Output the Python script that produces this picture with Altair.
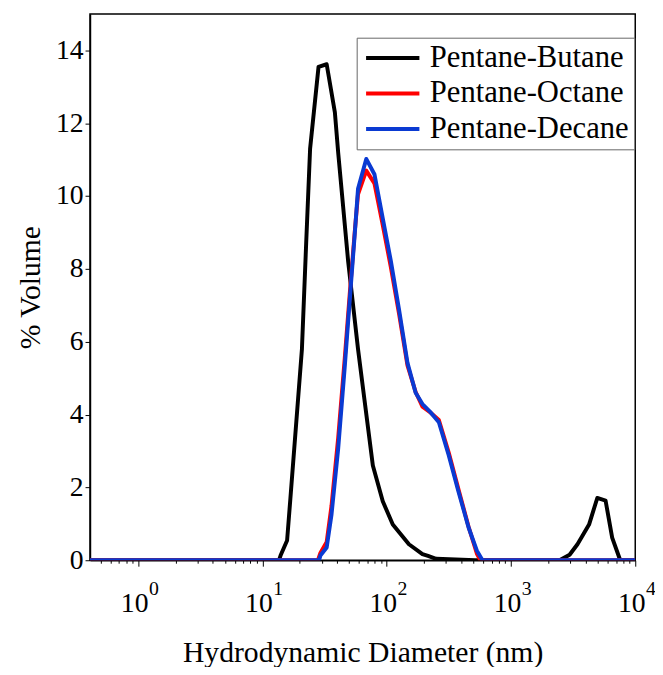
import altair as alt
import pandas as pd

# ---- data ----
butane_d = [0.4, 13.6, 14.0, 15.8, 16.8, 20.8, 22.5, 24.2, 28.3, 32.9, 38.3, 40.7, 49, 58.8, 66.3, 77.4,
            93, 112, 151, 194, 215, 250, 515, 2460, 2965, 3430, 4250, 4950, 5770, 6520, 7570, 10000]
butane_v = [0, 0, 0.13, 0.54, 1.7, 5.8, 8.7, 11.3, 13.55, 13.62, 12.3, 11.2, 8.2, 5.8, 4.4, 2.6,
            1.62, 0.98, 0.44, 0.17, 0.12, 0.04, 0, 0, 0.15, 0.44, 0.98, 1.71, 1.64, 0.62, 0, 0]

decane_d = [0.4, 28.6, 29.3, 32.9, 36.0, 40.7, 46.0, 50.4, 55.3, 58.8, 68.5, 79.7, 93, 108, 126, 147,
            171, 194, 226, 263, 316, 378, 456, 532, 590, 10000]
decane_v = [0, 0, 0.13, 0.35, 1.26, 3.06, 5.32, 7.13, 8.94, 10.2, 11.02, 10.6, 9.39, 8.22, 6.86, 5.42,
            4.6, 4.29, 4.06, 3.79, 2.88, 1.89, 0.9, 0.26, 0, 0]

octane_d = [0.4, 28.0, 29.3, 32.9, 36.0, 40.7, 46.0, 50.4, 55.3, 58.8, 68.5, 79.7, 93, 108, 126, 147,
            171, 194, 226, 263, 316, 378, 456, 532, 568, 10000]
octane_v = [0, 0, 0.2, 0.5, 1.5, 3.35, 5.55, 7.3, 9.0, 10.05, 10.7, 10.35, 9.2, 8.05, 6.75, 5.35,
            4.62, 4.22, 4.05, 3.85, 2.95, 1.95, 0.92, 0.18, 0, 0]

series_names = ["Pentane-Butane", "Pentane-Octane", "Pentane-Decane"]
series_colors = ["#000000", "#ff0000", "#0a3ad2"]

y_ticks = [0, 2, 4, 6, 8, 10, 12, 14]
decades = [1, 10, 100, 1000, 10000]
exponents = ["0", "1", "2", "3", "4"]
x_ticks = [m * 10 ** k for k in range(-1, 4) for m in range(1, 10) if 0.41 <= m * 10 ** k <= 10000] + [10000]

rows = []
for name, ds, vs in [(series_names[0], butane_d, butane_v),
                     (series_names[1], octane_d, octane_v),
                     (series_names[2], decane_d, decane_v)]:
    for i, (d, v) in enumerate(zip(ds, vs)):
        rows.append({"series": name, "d": d, "v": v, "order": i})
df = pd.DataFrame(rows)

exp_df = pd.DataFrame({"d": decades, "e": exponents})

W, H = 552, 553
FONT = "Liberation Serif"

xscale = alt.Scale(type="log", domain=[0.41, 10000], nice=False)

lines = alt.Chart(df).mark_line(strokeWidth=4, strokeJoin="round", clip=True).encode(
    x=alt.X("d:Q", scale=xscale,
            axis=alt.Axis(values=x_ticks, title="Hydrodynamic Diameter (nm)",
                          labelExpr="indexof([1,10,100,1000,10000], datum.value) >= 0 ? '10' : ''",
                          labelOffset=-4, labelPadding=24, labelFontSize=28,
                          tickSize={"condition": {"test": "indexof([1,10,100,1000,10000], datum.value) >= 0", "value": 6}, "value": 3},
                          titleFontSize=30, titlePadding=21, grid=False, labelFlush=False,
                          labelOverlap=False)),
    y=alt.Y("v:Q", scale=alt.Scale(domain=[0, 15], nice=False),
            axis=alt.Axis(values=y_ticks, title="% Volume", labelFontSize=28, labelPadding=2,
                          tickSize=5, titleFontSize=30, titlePadding=10, grid=False)),
    color=alt.Color("series:N", scale=alt.Scale(domain=series_names, range=series_colors),
                    sort=series_names,
                    legend=alt.Legend(title=None, orient="none", legendX=270, legendY=24,
                                      symbolType="M-2.5,0H2.5", symbolSize=466, symbolStrokeWidth=4,
                                      symbolOffset=16, labelOffset=22, labelFontSize=31,
                                      labelFont=FONT, rowPadding=4, padding=5,
                                      strokeColor="#666666", fillColor="white", labelLimit=400)),
    order=alt.Order("order:Q"),
    detail="series:N",
)

exps = alt.Chart(exp_df).mark_text(fontSize=20, font=FONT, dx=16, baseline="middle", align="center").encode(
    x=alt.X("d:Q", scale=xscale),
    y=alt.value(H + 29),
    text="e:N",
)

chart = alt.layer(lines, exps).properties(
    width=W, height=H,
    background="white",
    autosize=alt.AutoSizeParams(type="none"),
    padding={"left": 83, "top": 2, "right": 20, "bottom": 104},
).configure_view(stroke="black", strokeWidth=1.5).configure_axis(
    labelFont=FONT, titleFont=FONT, domainColor="black", tickColor="black",
    labelColor="black", titleColor="black", titleFontWeight="normal", domainWidth=1.5,
)

chart.save("out.html", embed_options={"renderer": "svg", "actions": False})
